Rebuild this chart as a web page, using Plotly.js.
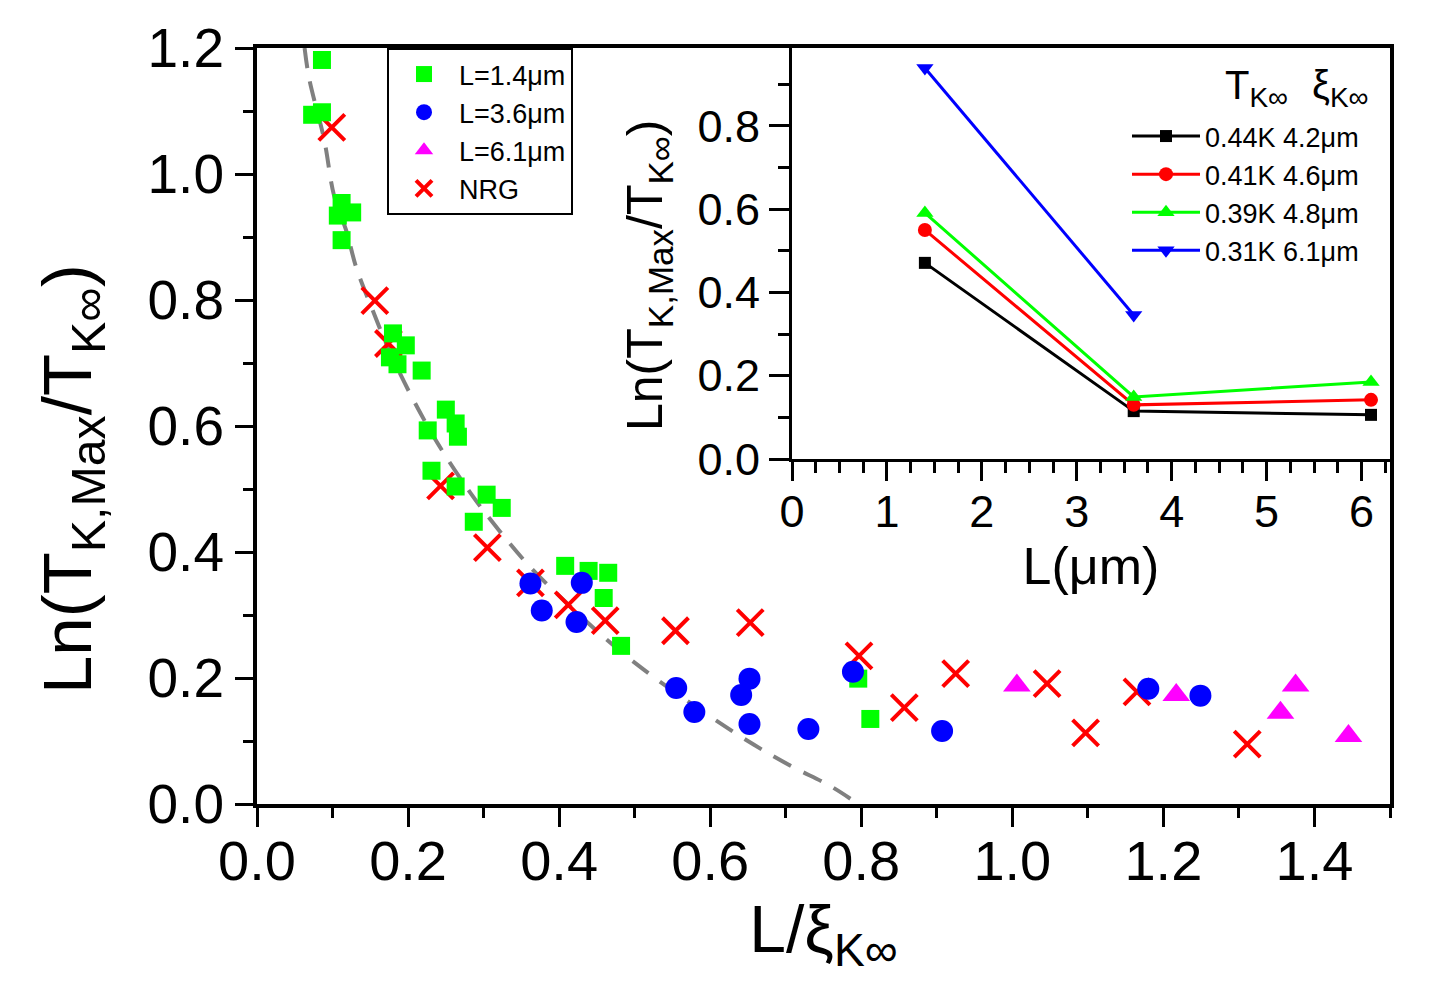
<!DOCTYPE html>
<html>
<head>
<meta charset="utf-8">
<script src="https://cdn.plot.ly/plotly-3.0.1.min.js"></script>
<style>
  html, body { margin: 0; padding: 0; background: #fff; }
  #myGraph { width: 1440px; height: 996px; }
</style>
</head>
<body>
<div id="myGraph"></div>
<script>
// main panel: L / xi_Kinf vs Ln(T_K,Max / T_Kinf)
const sqX = [0.086, 0.073, 0.086, 0.112, 0.126, 0.107, 0.112, 0.180, 0.197, 0.176, 0.186, 0.218, 0.250, 0.263, 0.266, 0.226, 0.231, 0.263, 0.304, 0.324, 0.287, 0.408, 0.439, 0.465, 0.459, 0.482, 0.796, 0.812];
const sqY = [1.181, 1.094, 1.098, 0.954, 0.939, 0.934, 0.895, 0.747, 0.728, 0.709, 0.698, 0.688, 0.626, 0.604, 0.583, 0.593, 0.529, 0.504, 0.491, 0.470, 0.448, 0.378, 0.370, 0.367, 0.327, 0.251, 0.199, 0.135];

const ciX = [0.362, 0.377, 0.430, 0.423, 0.555, 0.579, 0.652, 0.641, 0.652, 0.730, 0.789, 0.907, 1.180, 1.249];
const ciY = [0.350, 0.307, 0.351, 0.289, 0.184, 0.146, 0.199, 0.173, 0.127, 0.119, 0.210, 0.116, 0.183, 0.172];

const trX = [1.006, 1.217, 1.375, 1.355, 1.445];
const trY = [0.188, 0.173, 0.188, 0.145, 0.108];

const nrgX = [0.099, 0.156, 0.174, 0.243, 0.305, 0.362, 0.412, 0.461, 0.554, 0.653, 0.797, 0.857, 0.925, 1.046, 1.097, 1.165, 1.311];
const nrgY = [1.074, 0.799, 0.731, 0.505, 0.407, 0.351, 0.316, 0.291, 0.275, 0.288, 0.235, 0.153, 0.207, 0.191, 0.113, 0.178, 0.095];

// grey dashed guide curve
const fitX = [0.063, 0.069, 0.089, 0.102, 0.119, 0.131, 0.151, 0.181, 0.233, 0.283, 0.320, 0.361, 0.410, 0.459, 0.509, 0.591, 0.658, 0.709, 0.757, 0.796];
const fitY = [1.200, 1.152, 1.054, 0.966, 0.907, 0.853, 0.790, 0.704, 0.585, 0.493, 0.435, 0.377, 0.319, 0.265, 0.216, 0.146, 0.094, 0.059, 0.030, 0.000];

// inset: L (um) vs Ln(T_K,Max / T_Kinf)
const lenUm = [1.4, 3.6, 6.1];
const lenBlue = [1.4, 3.6];
const lnBlack = [0.471, 0.115, 0.106];
const lnRed = [0.550, 0.130, 0.142];
const lnGreen = [0.591, 0.149, 0.185];
const lnBlue = [0.939, 0.346];
const insetNames = ['0.44K 4.2μm', '0.41K 4.6μm', '0.39K 4.8μm', '0.31K 6.1μm'];

const FONT = 'Liberation Sans, Arial, sans-serif';
const yTitle = 'Ln(T<sub>K,Max</sub>/T<sub>K∞</sub>)';

const fitCurve = {
    x: fitX, y: fitY, type: 'scatter', mode: 'lines',
    line: {color: '#808080', width: 4, dash: '20px,14px', shape: 'spline'},
    showlegend: false, hoverinfo: 'skip'
};

const nrg = {
    x: nrgX, y: nrgY, type: 'scatter', mode: 'markers', name: 'NRG', legendrank: 4,
    marker: {symbol: 'x-thin', size: 26, line: {color: '#ff0000', width: 4}}
};

const l14 = {
    x: sqX, y: sqY, type: 'scatter', mode: 'markers', name: 'L=1.4μm', legendrank: 1,
    marker: {symbol: 'square', size: 18, color: '#00ff00'}
};

const l36 = {
    x: ciX, y: ciY, type: 'scatter', mode: 'markers', name: 'L=3.6μm', legendrank: 2,
    marker: {symbol: 'circle', size: 22, color: '#0000ff'}
};

const l61 = {
    x: trX, y: trY, type: 'scatter', mode: 'markers', name: 'L=6.1μm', legendrank: 3,
    marker: {symbol: 'triangle-up', size: 24, color: '#ff00ff'}
};

function insetTrace(x, y, name, color, symbol, size) {
    return {
        x: x, y: y, type: 'scatter', mode: 'lines+markers', name: name,
        xaxis: 'x2', yaxis: 'y2', legend: 'legend2',
        line: {color: color, width: 3},
        marker: {symbol: symbol, size: size, color: color}
    };
}

const data = [
    fitCurve, nrg, l14, l36, l61,
    insetTrace(lenUm, lnBlack, insetNames[0], '#000000', 'square', 12),
    insetTrace(lenUm, lnRed, insetNames[1], '#ff0000', 'circle', 14),
    insetTrace(lenUm, lnGreen, insetNames[2], '#00ff00', 'triangle-up', 15),
    insetTrace(lenBlue, lnBlue, insetNames[3], '#0000ff', 'triangle-down', 15)
];

const axisCommon = {
    showline: true, linecolor: '#000', mirror: true,
    ticks: 'outside', tickcolor: '#000', tickwidth: 3,
    showgrid: false, zeroline: false, automargin: false
};

const layout = {
    width: 1440, height: 996,
    margin: {l: 0, r: 0, t: 0, b: 0},
    paper_bgcolor: '#fff', plot_bgcolor: 'rgba(0,0,0,0)',
    font: {family: FONT, color: '#000'},
    xaxis: Object.assign({}, axisCommon, {
        domain: [257 / 1440, 1390 / 1440], range: [0, 1.5], linewidth: 4,
        dtick: 0.2, tick0: 0, tickformat: '.1f', ticklen: 19, ticklabelstandoff: -14,
        minor: {dtick: 0.1, ticklen: 10, tickwidth: 3, ticks: 'outside', tickcolor: '#000'},
        tickfont: {size: 56, family: FONT},
        title: {text: 'L/ξ<sub>K∞</sub>', font: {size: 66, family: FONT}, standoff: 8}
    }),
    yaxis: Object.assign({}, axisCommon, {
        domain: [1 - 804 / 996, 1 - 48 / 996], range: [0, 1.2], linewidth: 4,
        dtick: 0.2, tick0: 0, tickformat: '.1f', ticklen: 18,
        minor: {dtick: 0.1, ticklen: 10, tickwidth: 3, ticks: 'outside', tickcolor: '#000'},
        tickfont: {size: 55, family: FONT}
    }),
    xaxis2: Object.assign({}, axisCommon, {
        domain: [792 / 1440, 1390 / 1440], range: [0, 6.3], anchor: 'y2', linewidth: 3,
        dtick: 1, tick0: 0, ticklen: 19, ticklabelstandoff: -8,
        minor: {dtick: 0.25, ticklen: 11, tickwidth: 3, ticks: 'outside', tickcolor: '#000'},
        tickfont: {size: 45, family: FONT},
        title: {text: 'L(μm)', font: {size: 52, family: FONT}, standoff: 2}
    }),
    yaxis2: Object.assign({}, axisCommon, {
        domain: [1 - 459 / 996, 1 - 48 / 996], range: [0, 0.987], anchor: 'x2', linewidth: 3,
        dtick: 0.2, tick0: 0, tickformat: '.1f', ticklen: 20,
        minor: {dtick: 0.1, ticklen: 11, tickwidth: 3, ticks: 'outside', tickcolor: '#000'},
        tickfont: {size: 45, family: FONT}
    }),
    legend: {
        x: 387 / 1440, y: 1 - 48 / 996, xanchor: 'left', yanchor: 'top',
        bgcolor: '#fff', bordercolor: '#000', borderwidth: 2,
        font: {size: 27, family: FONT}, itemwidth: 60, tracegroupgap: 0,
        entrywidth: 128, entrywidthmode: 'pixels'
    },
    legend2: {
        x: 1127 / 1440, y: 1 - 112 / 996, xanchor: 'left', yanchor: 'top',
        bgcolor: 'rgba(0,0,0,0)', borderwidth: 0,
        font: {size: 27, family: FONT}, itemwidth: 68, tracegroupgap: 0
    },
    annotations: [
        {
            text: yTitle, textangle: -90,
            xref: 'paper', yref: 'paper', x: 72 / 1440, y: 1 - 479 / 996,
            xanchor: 'center', yanchor: 'middle', showarrow: false,
            font: {size: 69, family: FONT}
        },
        {
            text: yTitle, textangle: -90,
            xref: 'paper', yref: 'paper', x: 648 / 1440, y: 1 - 276 / 996,
            xanchor: 'center', yanchor: 'middle', showarrow: false,
            font: {size: 50, family: FONT}
        },
        {
            text: 'T<sub>K∞</sub>',
            xref: 'paper', yref: 'paper', x: 1223 / 1440, y: 1 - 88 / 996,
            xanchor: 'left', yanchor: 'middle', showarrow: false,
            font: {size: 40, family: FONT}
        },
        {
            text: 'ξ<sub>K∞</sub>',
            xref: 'paper', yref: 'paper', x: 1310 / 1440, y: 1 - 88 / 996,
            xanchor: 'left', yanchor: 'middle', showarrow: false,
            font: {size: 40, family: FONT}
        }
    ]
};

Plotly.newPlot('myGraph', data, layout, {displayModeBar: false});
</script>
</body>
</html>
